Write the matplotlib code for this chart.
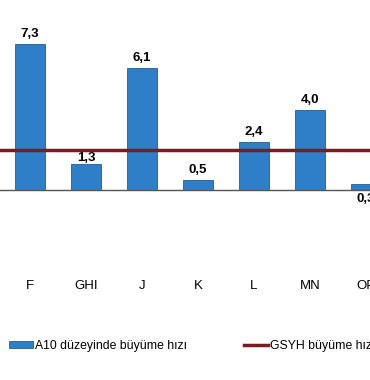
import matplotlib.pyplot as plt
import numpy as np

plt.rcParams['font.family'] = ['Liberation Sans', 'DejaVu Sans']

sektor = ['F', 'GHI', 'J', 'K', 'L', 'MN', 'OP']
buyume = [7.3, 1.3, 6.1, 0.5, 2.4, 4.0, 0.3]
etiket = ['7,3', '1,3', '6,1', '0,5', '2,4', '4,0', '0,3']
gsyh = 2.0

mavi = '#2f7fc8'
kirmizi = '#7b1c22'

fig = plt.figure(figsize=(3.7, 3.8), dpi=100)
ax = fig.add_axes([0, 1 - 270/380, 1, 270/380])

x = np.arange(len(sektor))
bars = ax.bar(x, buyume, width=0.55, color=mavi, edgecolor='#1f5f99',
              linewidth=0.6, label='A10 düzeyinde büyüme hızı', zorder=2)
ax.axhline(0, color='#555555', linewidth=1, zorder=3)
ax.axhline(gsyh, color=kirmizi, linewidth=2.5, zorder=4,
           label='GSYH büyüme hızı')

for i, (v, t) in enumerate(zip(buyume, etiket)):
    if i == len(sektor) - 1:
        # son etiket cubugun altinda
        ax.text(i, -0.15, t, ha='center', va='top', fontsize=9.5,
                fontweight='bold')
    elif i == 1:
        ax.text(i, v + 0.02, t, ha='center', va='bottom', fontsize=9.5,
                fontweight='bold')
    else:
        ax.text(i, v + 0.2, t, ha='center', va='bottom', fontsize=9.5,
                fontweight='bold')

ax.set_xlim(-0.536, 6.07)
ax.set_ylim(-4, 9.5)
ax.set_xticks(x)
ax.set_xticklabels(sektor, fontsize=9.5)
ax.tick_params(axis='x', length=0, pad=7)
ax.set_yticks([])
for s in ax.spines.values():
    s.set_visible(False)

fig.legend(handles=[bars, ax.lines[1]], labels=[bars.get_label(), 'GSYH büyüme hızı'],
           loc='center left', bbox_to_anchor=(2/370, 1 - 346/380), ncol=2,
           frameon=False, fontsize=8.8, handlelength=1.9, handleheight=0.5,
           handletextpad=0.2, columnspacing=4.7, borderaxespad=0,
           borderpad=0.6)

fig.savefig('out.png', dpi=100)
